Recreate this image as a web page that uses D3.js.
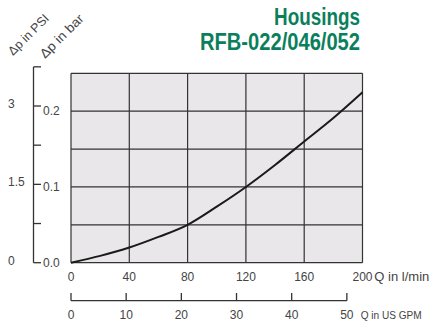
<!DOCTYPE html>
<html>
<head>
<meta charset="utf-8">
<script src="https://cdn.jsdelivr.net/npm/d3@7"></script>
<style>
  body { margin: 0; background: #fff; }
  svg text { font-family: "Liberation Sans Narrow", "Liberation Sans", Arial, sans-serif; fill: #444; }
</style>
</head>
<body>
<div id="chart"></div>
<script>
// flow in l/min and pressure drop in bar
const flowLpm = [0, 20, 40, 60, 80, 100, 120, 140, 160, 180, 200];
const dpBar = [0, 0.009, 0.020, 0.034, 0.050, 0.074, 0.100, 0.129, 0.160, 0.191, 0.225];

const lpmTicks = [0, 40, 80, 120, 160, 200];
const gpmTicks = [0, 10, 20, 30, 40, 50];
const barTicks = [0, 0.05, 0.1, 0.15, 0.2, 0.25];
const barLabels = [0, 0.1, 0.2];
const psiTicks = [0, 0.75, 1.5, 2.25, 3, 3.75];
const psiLabels = [0, 1.5, 3];

const width = 431, height = 325;
const LPM_PER_GPM = 3.78541, PSI_PER_BAR = 14.5038;

const svg = d3.select("#chart").append("svg")
    .attr("width", width)
    .attr("height", height);

const x = d3.scaleLinear().domain([0, 200]).range([71, 362.5]);
const y = d3.scaleLinear().domain([0, 0.25]).range([262.7, 73.3]);
const yPsi = d3.scaleLinear().domain([0, 0.25 * PSI_PER_BAR]).range([262.7, 73.3]);
const xGpm = d3.scaleLinear().domain([0, 200 / LPM_PER_GPM]).range([71, 362.5]);

// plot background
svg.append("rect")
    .attr("x", x(0)).attr("y", y(0.25))
    .attr("width", x(200) - x(0)).attr("height", y(0) - y(0.25))
    .attr("fill", "#e9e7e9");

// grid
svg.selectAll(".hgrid").data(barTicks).enter().append("line")
    .attr("x1", x(0)).attr("x2", x(200))
    .attr("y1", d => y(d)).attr("y2", d => y(d))
    .attr("stroke", "#333").attr("stroke-width", 1.2);
svg.selectAll(".vgrid").data(lpmTicks).enter().append("line")
    .attr("x1", d => x(d)).attr("x2", d => x(d))
    .attr("y1", y(0)).attr("y2", y(0.25))
    .attr("stroke", "#333").attr("stroke-width", 1.2);

// curve
const line = d3.line()
    .x((d, i) => x(flowLpm[i]))
    .y(d => y(d))
    .curve(d3.curveMonotoneX);
svg.append("path")
    .datum(dpBar)
    .attr("d", line)
    .attr("fill", "none")
    .attr("stroke", "#1a1a1a")
    .attr("stroke-width", 2);

// bar labels
svg.selectAll(".barlab").data(barLabels).enter().append("text")
    .attr("x", 43).attr("y", d => y(d) + 4)
    .style("font-size", "12px")
    .text(d => d.toFixed(1));

// psi axis (bracket)
const psiAxis = svg.append("g");
psiAxis.append("line")
    .attr("x1", 33.5).attr("x2", 33.5)
    .attr("y1", yPsi(0)).attr("y2", yPsi(3.75))
    .attr("stroke", "#333").attr("stroke-width", 1.3);
psiAxis.selectAll(".psitick").data(psiTicks).enter().append("line")
    .attr("x1", 33.5).attr("x2", 41)
    .attr("y1", d => yPsi(d)).attr("y2", d => yPsi(d))
    .attr("stroke", "#333").attr("stroke-width", 1.3);
psiAxis.selectAll(".psilab").data(psiLabels).enter().append("text")
    .attr("x", 8).attr("y", d => yPsi(d) + 2)
    .style("font-size", "12px")
    .text(d => d);

// l/min labels
svg.selectAll(".lpmlab").data(lpmTicks).enter().append("text")
    .attr("x", d => x(d)).attr("y", 281)
    .attr("text-anchor", "middle")
    .style("font-size", "12px")
    .text(d => d);
svg.append("text")
    .attr("x", 374.3).attr("y", 281)
    .attr("textLength", 55).attr("lengthAdjust", "spacingAndGlyphs")
    .style("font-size", "12.5px")
    .text("Q in l/min");

// GPM axis
svg.append("line")
    .attr("x1", xGpm(0)).attr("x2", xGpm(50))
    .attr("y1", 300.7).attr("y2", 300.7)
    .attr("stroke", "#333").attr("stroke-width", 1.3);
svg.selectAll(".gpmtick").data(gpmTicks).enter().append("line")
    .attr("x1", d => xGpm(d)).attr("x2", d => xGpm(d))
    .attr("y1", 293).attr("y2", 300.7)
    .attr("stroke", "#333").attr("stroke-width", 1.3);
svg.selectAll(".gpmlab").data(gpmTicks).enter().append("text")
    .attr("x", d => xGpm(d)).attr("y", 319.3)
    .attr("text-anchor", "middle")
    .style("font-size", "12px")
    .text(d => d);
svg.append("text")
    .attr("x", 360.7).attr("y", 319.3)
    .attr("textLength", 61).attr("lengthAdjust", "spacingAndGlyphs")
    .style("font-size", "11.5px")
    .text("Q in US GPM");

// rotated unit labels
svg.append("text")
    .attr("transform", "translate(13,56) rotate(-45)")
    .attr("textLength", 52).attr("lengthAdjust", "spacingAndGlyphs")
    .style("font-size", "12.5px")
    .text("Δp in PSI");
svg.append("text")
    .attr("transform", "translate(45,59) rotate(-45)")
    .attr("textLength", 56).attr("lengthAdjust", "spacingAndGlyphs")
    .style("font-size", "13px")
    .text("Δp in bar");

// title
svg.append("text")
    .attr("x", 360).attr("y", 25)
    .attr("text-anchor", "end")
    .attr("textLength", 86).attr("lengthAdjust", "spacingAndGlyphs")
    .style("font-size", "24px").style("font-weight", "bold")
    .style("fill", "#0b7f5c")
    .text("Housings");
svg.append("text")
    .attr("x", 360).attr("y", 50)
    .attr("text-anchor", "end")
    .attr("textLength", 160).attr("lengthAdjust", "spacingAndGlyphs")
    .style("font-size", "24px").style("font-weight", "bold")
    .style("fill", "#0b7f5c")
    .text("RFB-022/046/052");
</script>
</body>
</html>
